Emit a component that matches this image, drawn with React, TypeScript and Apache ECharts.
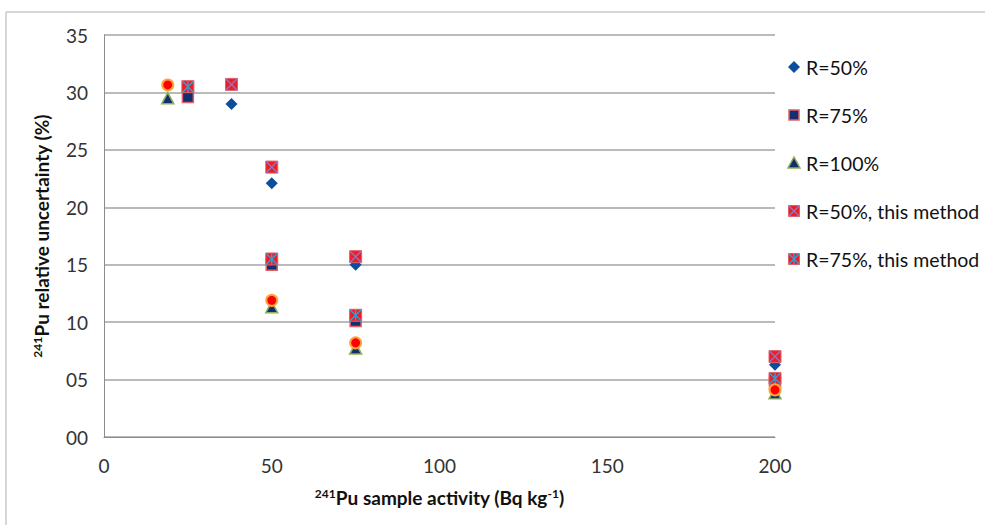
import React, { useEffect, useRef } from "react";
import * as echarts from "echarts";

// Sample activities (Bq kg-1) at which each efficiency R was evaluated
const xR50 = [38, 50, 75, 200];
const xR75 = [25, 50, 75, 200];
const xR100 = [19, 50, 75, 200];

// 241Pu relative uncertainty (%)
const uR50 = [29.0, 22.1, 15.0, 6.3];
const uR75 = [29.6, 15.0, 10.1, 4.7];
const uR100 = [29.5, 11.3, 7.7, 3.8];
const uR50This = [30.7, 23.5, 15.7, 7.0];
const uR75This = [30.5, 15.5, 10.6, 5.1];
const uR100This = [30.65, 11.9, 8.2, 4.1];

const seriesNames = [
  "R=50%",
  "R=75%",
  "R=100%",
  "R=50%, this method",
  "R=75%, this method",
];

const xTicks = [0, 50, 100, 150, 200];
const yTicks = [0, 5, 10, 15, 20, 25, 30, 35];

const pair = (xs: number[], ys: number[]) => xs.map((x, i) => [x, ys[i]]);

const FONT = "Lato, 'Open Sans', sans-serif";

const C = {
  diamond: "#0b4f9c",
  navy: "#132f6e",
  pinkBorder: "#e2606a",
  green: "#8cb05a",
  red: "#ee1c25",
  purpleX: "#8a78c0",
  cyanX: "#2e9fd8",
  orange: "#ffa43a",
};

export default function App() {
  const ref = useRef<HTMLDivElement>(null);

  useEffect(() => {
    if (!ref.current) return;
    const chart = echarts.init(ref.current, undefined, { renderer: "svg" });
    const xMark = "path://M0,0 L10,10 M10,0 L0,10";
    const starMark = "path://M0,0 L10,10 M10,0 L0,10 M5,0 L5,10";

    // legend drawn as graphic elements
    const lgX = 794;
    const lgY0 = 67;
    const lgStep = 48;
    const legendEls: any[] = [];
    seriesNames.forEach((name, i) => {
      const cy = lgY0 + i * lgStep;
      if (i === 0) {
        legendEls.push({
          type: "polygon",
          shape: { points: [[lgX, cy - 6], [lgX + 6, cy], [lgX, cy + 6], [lgX - 6, cy]] },
          style: { fill: C.diamond },
        });
      } else if (i === 1) {
        legendEls.push({
          type: "rect",
          shape: { x: lgX - 5, y: cy - 5, width: 10, height: 10 },
          style: { fill: C.navy, stroke: C.pinkBorder, lineWidth: 1.5 },
        });
      } else if (i === 2) {
        legendEls.push({
          type: "polygon",
          shape: { points: [[lgX, cy - 6], [lgX + 6, cy + 5], [lgX - 6, cy + 5]] },
          style: { fill: C.navy, stroke: C.green, lineWidth: 1.5 },
        });
      } else {
        const xc = i === 3 ? C.purpleX : C.cyanX;
        legendEls.push({
          type: "rect",
          shape: { x: lgX - 5.5, y: cy - 5.5, width: 11, height: 11 },
          style: { fill: C.red, stroke: C.pinkBorder, lineWidth: 1 },
        });
        legendEls.push({
          type: "line",
          shape: { x1: lgX - 5, y1: cy - 5, x2: lgX + 5, y2: cy + 5 },
          style: { stroke: xc, lineWidth: 1.4 },
        });
        legendEls.push({
          type: "line",
          shape: { x1: lgX + 5, y1: cy - 5, x2: lgX - 5, y2: cy + 5 },
          style: { stroke: xc, lineWidth: 1.4 },
        });
        if (i === 4) {
          legendEls.push({
            type: "line",
            shape: { x1: lgX, y1: cy - 5, x2: lgX, y2: cy + 5 },
            style: { stroke: xc, lineWidth: 1.4 },
          });
        }
      }
      legendEls.push({
        type: "text",
        x: lgX + 12,
        y: cy,
        style: {
          text: name,
          fill: "#111",
          font: `19.5px ${FONT}`,
          verticalAlign: "middle",
          align: "left",
        },
      });
    });

    const squareStyle = { color: C.red, borderColor: C.pinkBorder, borderWidth: 1, opacity: 1 };

    chart.setOption({
      animation: false,
      backgroundColor: "#ffffff",
      textStyle: { fontFamily: FONT },
      grid: { left: 104, right: 210, top: 35, bottom: 88 },
      xAxis: {
        type: "value",
        min: xTicks[0],
        max: xTicks[xTicks.length - 1],
        interval: 50,
        splitLine: { show: false },
        axisTick: { show: false },
        axisLine: { show: true, lineStyle: { color: "#8c8c8c", width: 1 } },
        axisLabel: {
          color: "#333",
          fontSize: 19,
          fontFamily: FONT,
          margin: 19,
        },
        name: "{sup|241}Pu sample activity (Bq kg{sup|-1})",
        nameLocation: "middle",
        nameGap: 50,
        nameTextStyle: {
          color: "#111",
          fontSize: 19,
          fontWeight: "bold",
          fontFamily: FONT,
          rich: {
            sup: {
              fontSize: 12,
              fontWeight: "bold",
              padding: [0, 0, 9, 0],
              color: "#111",
              fontFamily: FONT,
            },
          },
        },
      },
      yAxis: {
        type: "value",
        min: yTicks[0],
        max: yTicks[yTicks.length - 1],
        interval: 5,
        splitLine: { show: true, lineStyle: { color: "#a3a3a3", width: 1.6 } },
        axisTick: { show: false },
        axisLine: { show: true, lineStyle: { color: "#8c8c8c", width: 1 } },
        axisLabel: {
          color: "#333",
          fontSize: 19,
          fontFamily: FONT,
          margin: 16,
          formatter: (v: number) => (v < 10 ? "0" + v : String(v)),
        },
        name: "{sup|241}Pu relative uncertainty (%)",
        nameLocation: "middle",
        nameGap: 52,
        nameTextStyle: {
          color: "#111",
          fontSize: 19,
          fontWeight: "bold",
          fontFamily: FONT,
          rich: {
            sup: {
              fontSize: 12,
              fontWeight: "bold",
              padding: [0, 0, 9, 0],
              color: "#111",
              fontFamily: FONT,
            },
          },
        },
      },
      graphic: [
        {
          type: "line",
          shape: { x1: 6, y1: 12, x2: 985, y2: 12 },
          style: { stroke: "#c8c8c8", lineWidth: 1.5 },
        },
        {
          type: "line",
          shape: { x1: 6, y1: 12, x2: 6, y2: 525 },
          style: { stroke: "#c8c8c8", lineWidth: 1.5 },
        },
        ...legendEls,
      ],
      series: [
        {
          name: seriesNames[0],
          type: "scatter",
          data: pair(xR50, uR50),
          symbol: "diamond",
          symbolSize: 12,
          itemStyle: { color: C.diamond, opacity: 1 },
        },
        {
          name: seriesNames[1],
          type: "scatter",
          data: pair(xR75, uR75),
          symbol: "rect",
          symbolSize: 11,
          itemStyle: { color: C.navy, borderColor: C.pinkBorder, borderWidth: 1.5, opacity: 1 },
        },
        {
          name: seriesNames[2],
          type: "scatter",
          data: pair(xR100, uR100),
          symbol: "triangle",
          symbolSize: [12, 11],
          itemStyle: { color: C.navy, borderColor: C.green, borderWidth: 1.5, opacity: 1 },
        },
        {
          name: seriesNames[3],
          type: "scatter",
          data: pair(xR50, uR50This),
          symbol: "rect",
          symbolSize: 12,
          itemStyle: squareStyle,
        },
        {
          name: seriesNames[3] + " mark",
          type: "scatter",
          data: pair(xR50, uR50This),
          symbol: xMark,
          symbolSize: 11,
          itemStyle: { color: "none", borderColor: C.purpleX, borderWidth: 1.4, opacity: 1 },
        },
        {
          name: seriesNames[4],
          type: "scatter",
          data: pair(xR75, uR75This),
          symbol: "rect",
          symbolSize: 12,
          itemStyle: squareStyle,
        },
        {
          name: seriesNames[4] + " mark",
          type: "scatter",
          data: pair(xR75, uR75This),
          symbol: starMark,
          symbolSize: 11,
          itemStyle: { color: "none", borderColor: C.cyanX, borderWidth: 1.4, opacity: 1 },
        },
        {
          name: "R=100%, this method",
          type: "scatter",
          data: pair(xR100, uR100This),
          symbol: "circle",
          symbolSize: 11,
          itemStyle: { color: "#ff0000", borderColor: C.orange, borderWidth: 2, opacity: 1 },
        },
      ],
    });
    return () => chart.dispose();
  }, []);

  return (
    <div
      ref={ref}
      style={{ position: "fixed", left: 0, top: 0, width: 985, height: 525 }}
    />
  );
}
